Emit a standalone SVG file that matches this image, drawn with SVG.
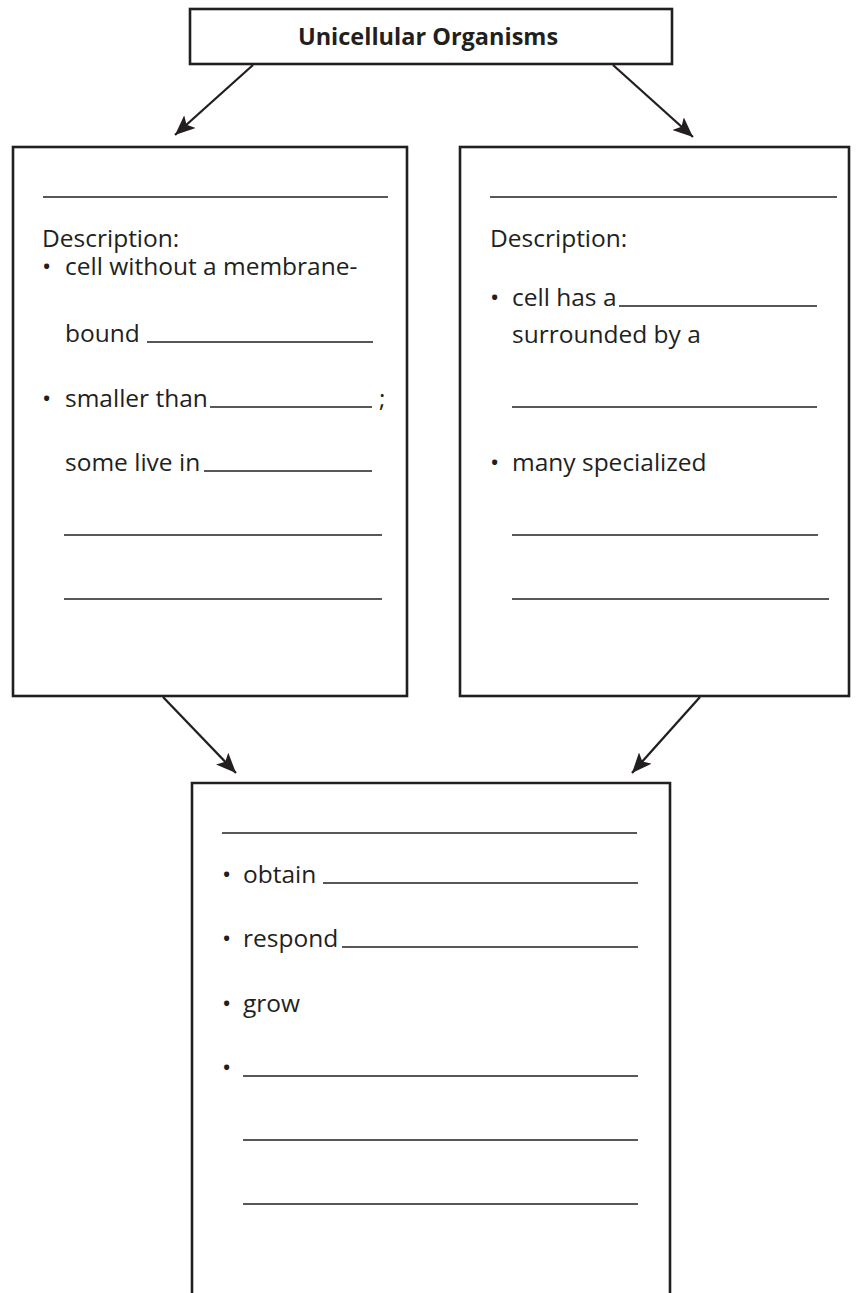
<svg xmlns="http://www.w3.org/2000/svg" width="856" height="1293" viewBox="0 0 856 1293">
  <defs>
    <style>
      .box { fill: #ffffff; stroke: #231f20; stroke-width: 2.6; }
      .blank { stroke: #231f20; stroke-width: 1.3; fill: none; }
      .txt { font-family: "Open Sans", "Noto Sans", "Liberation Sans", sans-serif; font-size: 24.5px; fill: #231f20; }
      .title { font-family: "Open Sans", "Noto Sans", "Liberation Sans", sans-serif; font-size: 23.5px; font-weight: bold; fill: #231f20; }
      .conn { stroke: #231f20; stroke-width: 2.3; fill: none; marker-end: url(#head); }
    </style>
    <marker id="head" markerUnits="userSpaceOnUse" viewBox="0 0 20 17" refX="20" refY="8.5" markerWidth="20" markerHeight="17" orient="auto">
      <path d="M0,0 L20,8.5 L0,17 L4.5,8.5 Z" fill="#231f20"/>
    </marker>
  </defs>

  <rect width="856" height="1293" fill="#ffffff"/>

  <!-- connectors -->
  <g id="connectors">
    <line class="conn" x1="253" y1="65" x2="175" y2="135"/>
    <line class="conn" x1="613" y1="65" x2="693" y2="137"/>
    <line class="conn" x1="163" y1="697" x2="236" y2="773"/>
    <line class="conn" x1="700" y1="697" x2="632" y2="773"/>
  </g>

  <!-- top heading -->
  <g id="node-title">
    <rect class="box" x="190" y="9" width="482" height="55"/>
    <text class="title" x="428" y="45" text-anchor="middle">Unicellular Organisms</text>
  </g>

  <!-- left box -->
  <g id="node-left">
    <rect class="box" x="13" y="147" width="394" height="549"/>
    <line class="blank" x1="43" y1="197" x2="388" y2="197"/>
    <text class="txt" x="42" y="247">Description:</text>
    <text class="txt" x="42" y="275">•</text>
    <text class="txt" x="65" y="275">cell without a membrane-</text>
    <text class="txt" x="65" y="342">bound</text>
    <line class="blank" x1="147" y1="342" x2="373" y2="342"/>
    <text class="txt" x="42" y="407">•</text>
    <text class="txt" x="65" y="407">smaller than</text>
    <line class="blank" x1="210" y1="407" x2="372" y2="407"/>
    <text class="txt" x="379" y="407">;</text>
    <text class="txt" x="65" y="471">some live in</text>
    <line class="blank" x1="204" y1="471" x2="372" y2="471"/>
    <line class="blank" x1="64" y1="535" x2="382" y2="535"/>
    <line class="blank" x1="64" y1="599" x2="382" y2="599"/>
  </g>

  <!-- right box -->
  <g id="node-right">
    <rect class="box" x="460" y="147" width="389" height="549"/>
    <line class="blank" x1="490" y1="197" x2="837" y2="197"/>
    <text class="txt" x="490" y="247">Description:</text>
    <text class="txt" x="490" y="306">•</text>
    <text class="txt" x="512" y="306">cell has a</text>
    <line class="blank" x1="619" y1="306" x2="817" y2="306"/>
    <text class="txt" x="512" y="343">surrounded by a</text>
    <line class="blank" x1="512" y1="407" x2="817" y2="407"/>
    <text class="txt" x="490" y="471">•</text>
    <text class="txt" x="512" y="471">many specialized</text>
    <line class="blank" x1="512" y1="535" x2="818" y2="535"/>
    <line class="blank" x1="512" y1="599" x2="829" y2="599"/>
  </g>

  <!-- bottom box (runs off the lower edge) -->
  <g id="node-bottom">
    <path class="box" d="M192,1300 L192,783 L670,783 L670,1300"/>
    <line class="blank" x1="222" y1="833" x2="637" y2="833"/>
    <text class="txt" x="222" y="883">•</text>
    <text class="txt" x="243" y="883">obtain</text>
    <line class="blank" x1="323" y1="883" x2="638" y2="883"/>
    <text class="txt" x="222" y="947">•</text>
    <text class="txt" x="243" y="947">respond</text>
    <line class="blank" x1="342" y1="947" x2="638" y2="947"/>
    <text class="txt" x="222" y="1012">•</text>
    <text class="txt" x="243" y="1012">grow</text>
    <text class="txt" x="222" y="1076">•</text>
    <line class="blank" x1="243" y1="1076" x2="638" y2="1076"/>
    <line class="blank" x1="243" y1="1140" x2="638" y2="1140"/>
    <line class="blank" x1="243" y1="1204" x2="638" y2="1204"/>
  </g>
</svg>
